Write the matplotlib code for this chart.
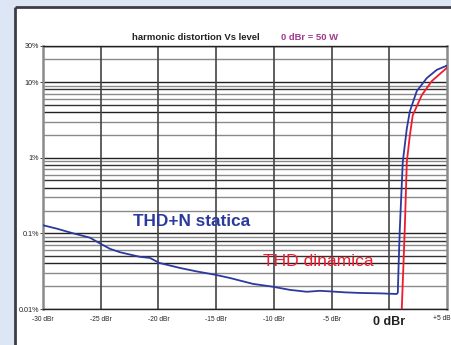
import matplotlib
matplotlib.use("Agg")
import matplotlib.pyplot as plt
import numpy as np
from matplotlib.patches import Rectangle

plt.rcParams['font.family'] = ['Liberation Sans', 'DejaVu Sans']

# THD+N statica (blue)
static_dbr = [-30.0, -28.81, -27.38, -25.93, -25.07, -24.2, -23.33, -21.6, -20.74, -19.93,
              -18.14, -16.69, -15.1, -13.8, -11.82, -10.09, -8.61, -7.14, -6.02, -5.15,
              -3.85, -2.55, -0.82, 0.65, 0.74, 0.8, 0.91, 1.17, 1.52, 1.78, 2.38, 3.25, 4.11, 5.06]
static_thd = [0.128, 0.1155, 0.100, 0.0877, 0.0736, 0.0625, 0.0563, 0.0489, 0.0474, 0.0407,
              0.0349, 0.0314, 0.0284, 0.0257, 0.0215, 0.0197, 0.0179, 0.0169, 0.0174, 0.0171,
              0.0166, 0.0163, 0.0161, 0.0158, 0.0165, 0.035, 0.113, 0.885, 2.44, 4.1, 7.6, 11.3, 14.5, 16.7]

# THD dinamica (red)
dyn_dbr = [1.08, 1.2, 1.34, 1.52, 1.78, 2.03, 2.81, 3.68, 5.06]
dyn_thd = [0.0099, 0.03, 0.113, 0.885, 1.96, 3.63, 6.7, 10.3, 15.8]

x_ticks = [-30, -25, -20, -15, -10, -5, 0, 5]
x_labels = ['-30 dBr', '-25 dBr', '-20 dBr', '-15 dBr', '-10 dBr', '-5 dBr', '0 dBr', '+5 dB']
y_ticks = [0.01, 0.1, 1, 10, 30]
y_labels = ['0.01%', '0.1%', '1%', '10%', '30%']

W, H = 452, 345
fig = plt.figure(figsize=(W / 100, H / 100), dpi=100)
fig.patch.set_facecolor('#dce6f4')

# white panel with dark border (background axes)
bg = fig.add_axes([0, 0, 1, 1], zorder=0)
bg.set_xlim(0, W)
bg.set_ylim(H, 0)
bg.axis('off')
bg.add_patch(Rectangle((14, 6), W - 14, H - 6, facecolor='white', edgecolor='none'))
bg.plot([15, 15], [H, 6.5], color='#3c3c46', lw=2, solid_capstyle='butt')
bg.plot([15, W], [6.5, 6.5], color='#3c3c46', lw=2, solid_capstyle='butt')

ax = fig.add_axes([43 / W, 36 / H, 404 / W, 263 / H], zorder=2)
ax.set_facecolor('none')
ax.set_xlim(-30, 5)
ax.set_yscale('log')
ax.set_ylim(0.01, 30)

# horizontal grid
pattern = {1: '#222222', 2: '#8a8a8a', 3: '#8a8a8a', 4: '#222222', 5: '#333333',
           6: '#8a8a8a', 7: '#8a8a8a', 8: '#333333', 9: '#8a8a8a'}
for dec in [0.01, 0.1, 1, 10]:
    for m in range(1, 10):
        v = dec * m
        if v > 30:
            continue
        ax.axhline(v, color=pattern[m], lw=1.0, zorder=1)
ax.axhline(30, color='#222222', lw=1.0, zorder=1)

# vertical grid
for xv in x_ticks[1:-1]:
    ax.axvline(xv, color='#444444', lw=1.2, zorder=1)

for s in ['left', 'right']:
    ax.spines[s].set_color('#8a8a8a')
    ax.spines[s].set_linewidth(1.8)
for s in ['top', 'bottom']:
    ax.spines[s].set_color('#222222')
    ax.spines[s].set_linewidth(1.0)

ax.plot(static_dbr, static_thd, color='#2b3a9e', lw=1.3, zorder=3, clip_on=True)
ax.plot(dyn_dbr, dyn_thd, color='#ee1c2e', lw=1.3, zorder=3, clip_on=True)

ax.set_xticks(x_ticks)
ax.set_xticklabels(x_labels[:-1] + [''])
ax.set_yticks(y_ticks)
ax.set_yticklabels(y_labels)
ax.minorticks_off()
ax.tick_params(axis='x', length=0, labelsize=4.8, pad=5, colors='#222222')
ax.tick_params(axis='y', length=2, width=0.6, labelsize=5.2, pad=1, colors='#222222')
for lbl in ax.get_xticklabels():
    if lbl.get_text() == '0 dBr':
        lbl.set_fontsize(9)
        lbl.set_fontweight('bold')

# last x label placed so it stays inside the picture
fig.text(451 / W, 1 - 318.5 / H, x_labels[-1], ha='right', va='center',
         fontsize=4.8, color='#222222')

fig.text(196 / W, 1 - 37 / H, 'harmonic distortion Vs level', ha='center', va='center',
         fontsize=6.8, fontweight='bold', color='#222222')
fig.text(310 / W, 1 - 37 / H, '0 dBr = 50 W', ha='center', va='center',
         fontsize=6.8, fontweight='bold', color='#a2388c')

ax.text(-17.14, 0.1445, 'THD+N statica', ha='center', va='center', fontsize=12.4,
        fontweight='bold', color='#2b3a9e', zorder=4)
ax.text(-6.19, 0.0423, 'THD dinamica', ha='center', va='center', fontsize=12.6,
        color='#ee1c2e', zorder=4)

fig.savefig('out.png', dpi=100, facecolor=fig.get_facecolor())
